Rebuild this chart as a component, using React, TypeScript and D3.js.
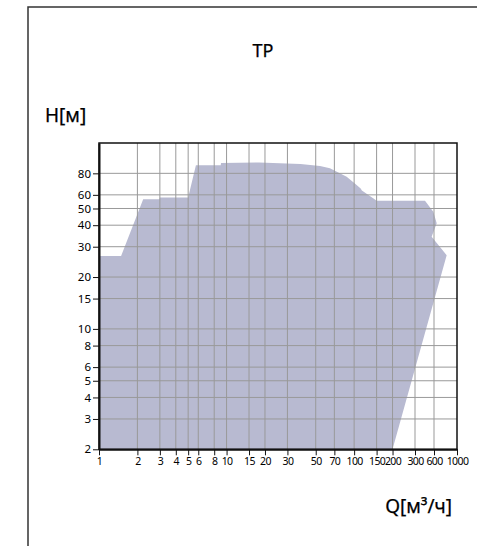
import { useEffect, useRef } from "react";
import * as d3 from "d3";

// chart data
const flowTicks = [1, 2, 3, 4, 5, 6, 8, 10, 15, 20, 30, 50, 70, 100, 150, 200, 300, 600, 1000];
const headTicks = [2, 3, 4, 5, 6, 8, 10, 15, 20, 30, 40, 50, 60, 80];

// envelope of the TP range (Q in m3/h, H in m), clockwise from bottom left
const envelopeQ = [1, 1, 1.49, 2.22, 2.97, 3, 5, 5.75, 9, 9.05, 18, 38, 54, 64.6, 87.4, 104.6, 112.5, 115, 141, 150, 432, 585, 637, 551, 795, 200];
const envelopeH = [2, 26.5, 26.5, 56.5, 56.5, 58, 58, 89, 89, 92, 92.5, 90.6, 88.1, 85.5, 76.4, 68.4, 65.4, 63.6, 57.3, 55.4, 55.4, 47.9, 41, 34.3, 26.8, 2];

const WIDTH = 477;
const HEIGHT = 546;
const FONT = "'Noto Sans', 'Open Sans', sans-serif";

export default function App() {
  const svgRef = useRef<SVGSVGElement>(null);

  useEffect(() => {
    const svg = d3.select(svgRef.current);
    svg.selectAll("*").remove();

    const left = 99, right = 457, top = 143, bottom = 449.3;

    // x axis is log up to 300 then squeezed, so use a piecewise log scale
    const x = d3.scaleLog().domain([1, 300, 600, 1000]).range([left, 415, 434, right]);
    const y = d3.scaleLog().domain([2, 120]).range([bottom, top]);

    // outer frame
    svg.append("path")
      .attr("d", `M28,${HEIGHT} L28,7 L${WIDTH},7`)
      .attr("fill", "none")
      .attr("stroke", "#333")
      .attr("stroke-width", 1.5);

    // titles - slightly heavier than regular, like the original
    const label = (tx: number, ty: number, anchor: string, size: number, txt: string) =>
      svg.append("text")
        .attr("x", tx).attr("y", ty)
        .attr("text-anchor", anchor)
        .style("font", `${size}px ${FONT}`)
        .attr("fill", "#000")
        .attr("stroke", "#000")
        .attr("stroke-width", 0.25)
        .text(txt);

    label(263, 57, "middle", 18, "TP");
    label(45, 122, "start", 19, "H[м]");
    label(452, 513, "end", 19, "Q[м³/ч]");

    // shaded envelope
    const pts: [number, number][] = envelopeQ.map((q, i) => [q, envelopeH[i]]);
    const area = d3.line<[number, number]>()
      .x((d) => x(d[0]))
      .y((d) => y(d[1]));
    svg.append("path")
      .attr("d", area(pts) + "Z")
      .attr("fill", "#b8bad1");

    // grid
    const grid = svg.append("g").attr("stroke", "#999").attr("stroke-width", 1);
    grid.selectAll("line.v")
      .data(flowTicks.slice(1, -1))
      .join("line")
      .attr("class", "v")
      .attr("x1", (d) => x(d)).attr("x2", (d) => x(d))
      .attr("y1", top).attr("y2", bottom);
    grid.selectAll("line.h")
      .data(headTicks.slice(1))
      .join("line")
      .attr("class", "h")
      .attr("x1", left).attr("x2", right)
      .attr("y1", (d) => y(d)).attr("y2", (d) => y(d));

    // plot border
    svg.append("rect")
      .attr("x", left).attr("y", top)
      .attr("width", right - left).attr("height", bottom - top)
      .attr("fill", "none")
      .attr("stroke", "#111")
      .attr("stroke-width", 1.5);

    // axes
    const yAxis = d3.axisLeft(y)
      .tickValues(headTicks)
      .tickFormat((d) => String(d))
      .tickSize(6)
      .tickSizeOuter(0);
    const gy = svg.append("g").attr("transform", `translate(${left},0)`).call(yAxis);
    gy.select(".domain").attr("stroke", "#111").attr("stroke-width", 2);
    gy.selectAll("line").attr("stroke", "#111");
    gy.selectAll("text").style("font", `11.5px ${FONT}`).attr("fill", "#000").attr("dx", "1");

    const xAxis = d3.axisBottom(x)
      .tickValues(flowTicks)
      .tickFormat((d) => String(d))
      .tickSize(6)
      .tickSizeOuter(0);
    const gx = svg.append("g").attr("transform", `translate(0,${bottom})`).call(xAxis);
    gx.select(".domain").attr("stroke", "#111").attr("stroke-width", 2);
    gx.selectAll("line").attr("stroke", "#111");
    gx.selectAll("text").style("font", `10.5px ${FONT}`).attr("fill", "#000").attr("letter-spacing", "-0.6").attr("dy", "0.6em");
  }, []);

  return (
    <div style={{ position: "absolute", left: 0, top: 0 }}>
      <svg ref={svgRef} width={WIDTH} height={HEIGHT} style={{ display: "block", background: "#fff" }} />
    </div>
  );
}
